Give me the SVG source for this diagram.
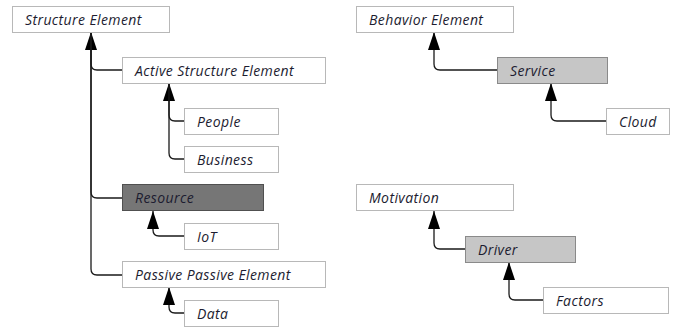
<svg xmlns="http://www.w3.org/2000/svg" width="673" height="327" viewBox="0 0 673 327">
<defs>
<marker id="arr" viewBox="0 0 18 12" refX="18" refY="6" markerWidth="18" markerHeight="12" markerUnits="userSpaceOnUse" orient="auto">
<path d="M0,0 L18,6 L0,12 Z" fill="#000"/>
</marker>
<style>
.box{fill:#fff;stroke:#b8b8b8;stroke-width:1}
.dark{fill:#767676;stroke:#505050}
.light{fill:#c6c6c6;stroke:#8a8a8a}
.t{font-family:"Open Sans","Noto Sans","DejaVu Sans",sans-serif;font-style:italic;font-size:14px;letter-spacing:0.4px;fill:#1c1c30}
.c{fill:none;stroke:#1a1a1a;stroke-width:1.3}
</style>
</defs>
<rect width="673" height="327" fill="#fff"/>
<g id="connectors">
<path class="c" d="M122,70 H97 Q91,70 91,64 V32" marker-end="url(#arr)"/>
<path class="c" d="M122,198 H97 Q91,198 91,192 V32"/>
<path class="c" d="M122,275 H97 Q91,275 91,269 V32"/>
<path class="c" d="M184,121 H175 Q169,121 169,115 V83" marker-end="url(#arr)"/>
<path class="c" d="M184,159 H175 Q169,159 169,153 V83"/>
<path class="c" d="M184,236 H159 Q153,236 153,230 V211" marker-end="url(#arr)"/>
<path class="c" d="M184,313 H175 Q169,313 169,307 V287" marker-end="url(#arr)"/>
<path class="c" d="M497,70 H440 Q434,70 434,64 V32" marker-end="url(#arr)"/>
<path class="c" d="M606,121 H557 Q551,121 551,115 V83" marker-end="url(#arr)"/>
<path class="c" d="M465,249 H440 Q434,249 434,243 V211" marker-end="url(#arr)"/>
<path class="c" d="M543,300 H515 Q509,300 509,294 V262" marker-end="url(#arr)"/>
</g>
<g id="structure-element"><rect class="box" x="12.5" y="6.5" width="157" height="26"/><text class="t" x="25" y="24.5">Structure Element</text></g>
<g id="active-structure-element"><rect class="box" x="122.5" y="57.5" width="203" height="26"/><text class="t" x="135" y="75.5">Active Structure Element</text></g>
<g id="people"><rect class="box" x="184.5" y="108.5" width="94" height="26"/><text class="t" x="197" y="126.5">People</text></g>
<g id="business"><rect class="box" x="184.5" y="146.5" width="94" height="26"/><text class="t" x="197" y="164.5">Business</text></g>
<g id="resource"><rect class="box dark" x="122.5" y="184.5" width="141" height="26"/><text class="t" x="135" y="202.5">Resource</text></g>
<g id="iot"><rect class="box" x="184.5" y="223.5" width="94" height="26"/><text class="t" x="197" y="241.5">IoT</text></g>
<g id="passive-passive-element"><rect class="box" x="122.5" y="261.5" width="203" height="26"/><text class="t" x="135" y="279.5">Passive Passive Element</text></g>
<g id="data"><rect class="box" x="184.5" y="300.5" width="94" height="26"/><text class="t" x="197" y="318.5">Data</text></g>
<g id="behavior-element"><rect class="box" x="356.5" y="6.5" width="157" height="26"/><text class="t" x="369" y="24.5">Behavior Element</text></g>
<g id="service"><rect class="box light" x="497.5" y="57.5" width="110" height="26"/><text class="t" x="510" y="75.5">Service</text></g>
<g id="cloud"><rect class="box" x="606.5" y="108.5" width="63" height="26"/><text class="t" x="619" y="126.5">Cloud</text></g>
<g id="motivation"><rect class="box" x="356.5" y="184.5" width="157" height="26"/><text class="t" x="369" y="202.5">Motivation</text></g>
<g id="driver"><rect class="box light" x="465.5" y="236.5" width="110" height="26"/><text class="t" x="478" y="254.5">Driver</text></g>
<g id="factors"><rect class="box" x="543.5" y="287.5" width="125" height="26"/><text class="t" x="556" y="305.5">Factors</text></g>
</svg>
